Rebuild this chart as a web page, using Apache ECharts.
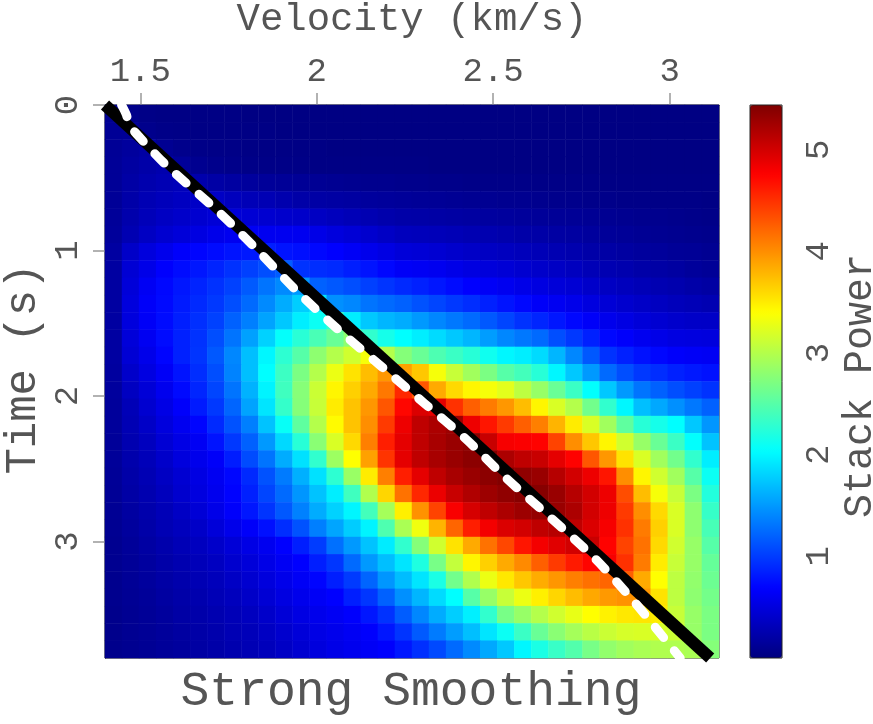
<!DOCTYPE html>
<html><head><meta charset="utf-8">
<script src="https://cdn.jsdelivr.net/npm/echarts@6/dist/echarts.min.js"></script>
<style>html,body{margin:0;padding:0;background:#fff}#c{width:873px;height:724px}</style>
</head><body><div id="c"></div>
<script>
// ---- data (stack power on a 36 x 32 velocity/time grid) ----
const velocityBins = ['1.424','1.473','1.521','1.569','1.618','1.666','1.714','1.763','1.811','1.859','1.908','1.956','2.004','2.053','2.101','2.149','2.198','2.246','2.294','2.343','2.391','2.439','2.488','2.536','2.584','2.633','2.681','2.729','2.778','2.826','2.874','2.923','2.971','3.019','3.068','3.116'];
const timeBins = ['0.059','0.178','0.297','0.416','0.534','0.653','0.772','0.891','1.009','1.128','1.247','1.366','1.484','1.603','1.722','1.841','1.959','2.078','2.197','2.316','2.434','2.553','2.672','2.791','2.909','3.028','3.147','3.266','3.384','3.503','3.622','3.741'];
const p00 = [0.10,0.06,0.04,0.03,0.03,0.03,0.03,0.03,0.02,0.02,0.02,0.02,0.02,0.02,0.02,0.02,0.02,0.02,0.02,0.02,0.02,0.02,0.02,0.02,0.02,0.02,0.02,0.02,0.02,0.02,0.02,0.02,0.02,0.02,0.02,0.02];
const p01 = [0.12,0.13,0.07,0.05,0.04,0.03,0.03,0.03,0.03,0.03,0.02,0.02,0.02,0.02,0.02,0.02,0.02,0.02,0.02,0.02,0.02,0.02,0.02,0.02,0.02,0.02,0.02,0.02,0.02,0.02,0.02,0.02,0.02,0.02,0.02,0.02];
const p02 = [0.12,0.16,0.19,0.10,0.07,0.05,0.04,0.04,0.03,0.03,0.03,0.03,0.03,0.02,0.02,0.02,0.02,0.02,0.02,0.02,0.02,0.02,0.02,0.02,0.02,0.02,0.02,0.02,0.02,0.02,0.02,0.02,0.02,0.02,0.02,0.02];
const p03 = [0.13,0.18,0.22,0.25,0.14,0.09,0.07,0.06,0.05,0.04,0.04,0.04,0.03,0.03,0.03,0.03,0.03,0.03,0.03,0.02,0.02,0.02,0.02,0.02,0.02,0.02,0.02,0.02,0.02,0.02,0.02,0.02,0.02,0.02,0.02,0.02];
const p04 = [0.13,0.2,0.25,0.28,0.31,0.24,0.2,0.18,0.16,0.14,0.13,0.12,0.11,0.1,0.09,0.08,0.08,0.07,0.07,0.06,0.06,0.05,0.05,0.05,0.05,0.04,0.04,0.04,0.04,0.03,0.03,0.03,0.03,0.03,0.03,0.03];
const p05 = [0.13,0.22,0.28,0.32,0.35,0.38,0.37,0.33,0.3,0.28,0.25,0.22,0.2,0.19,0.18,0.16,0.15,0.14,0.13,0.12,0.11,0.1,0.1,0.09,0.09,0.08,0.07,0.07,0.06,0.06,0.05,0.05,0.04,0.04,0.04,0.03];
const p06 = [0.14,0.24,0.31,0.36,0.4,0.43,0.46,0.47,0.45,0.43,0.41,0.4,0.36,0.33,0.3,0.27,0.24,0.22,0.21,0.2,0.19,0.18,0.17,0.16,0.15,0.14,0.13,0.12,0.11,0.1,0.09,0.08,0.08,0.07,0.06,0.05];
const p07 = [0.15,0.27,0.36,0.43,0.48,0.52,0.57,0.6,0.62,0.6,0.6,0.6,0.55,0.5,0.46,0.42,0.37,0.33,0.32,0.31,0.29,0.27,0.26,0.24,0.22,0.21,0.19,0.18,0.16,0.14,0.13,0.11,0.1,0.09,0.08,0.07];
const p08 = [0.18,0.39,0.5,0.58,0.66,0.7,0.74,0.78,0.81,0.84,0.78,0.76,0.72,0.68,0.63,0.58,0.53,0.48,0.46,0.44,0.41,0.38,0.36,0.34,0.32,0.3,0.27,0.25,0.22,0.2,0.18,0.16,0.15,0.13,0.12,0.1];
const p09 = [0.18,0.45,0.56,0.67,0.74,0.8,0.87,0.94,1.02,1.1,1.18,0.95,0.92,0.9,0.84,0.78,0.71,0.64,0.62,0.6,0.56,0.52,0.49,0.46,0.43,0.4,0.37,0.34,0.3,0.27,0.25,0.22,0.2,0.18,0.15,0.13];
const p10 = [0.18,0.48,0.62,0.72,0.8,0.87,0.94,1.03,1.16,1.3,1.42,1.5,1.2,1.15,1.1,1.02,0.96,0.9,0.85,0.8,0.74,0.68,0.64,0.6,0.56,0.52,0.48,0.45,0.4,0.36,0.33,0.3,0.27,0.25,0.22,0.19];
const p11 = [0.18,0.5,0.65,0.73,0.82,0.9,0.98,1.1,1.25,1.42,1.6,1.78,1.9,1.45,1.4,1.3,1.25,1.2,1.12,1.05,0.98,0.92,0.85,0.78,0.72,0.65,0.61,0.57,0.51,0.46,0.42,0.38,0.35,0.32,0.3,0.27];
const p12 = [0.18,0.5,0.64,0.74,0.84,0.93,1.03,1.2,1.36,1.55,1.75,1.95,2.1,2.3,1.95,1.75,1.65,1.6,1.5,1.4,1.32,1.25,1.15,1.05,0.95,0.88,0.8,0.72,0.65,0.58,0.53,0.48,0.44,0.41,0.39,0.38];
const p13 = [0.18,0.48,0.61,0.74,0.85,0.95,1.1,1.3,1.54,1.8,2.06,2.26,2.43,2.6,2.8,2.3,2.15,2.04,1.95,1.85,1.75,1.65,1.52,1.4,1.32,1.25,1.1,0.98,0.85,0.72,0.66,0.6,0.56,0.52,0.51,0.5];
const p14 = [0.18,0.45,0.57,0.7,0.85,0.96,1.15,1.4,1.7,2.0,2.28,2.5,2.8,3.0,3.15,3.35,3.0,2.75,2.6,2.45,2.35,2.25,2.12,2.0,1.95,1.85,1.65,1.4,1.15,0.95,0.85,0.77,0.71,0.66,0.64,0.62];
const p15 = [0.17,0.4,0.52,0.64,0.78,0.92,1.1,1.38,1.7,2.04,2.36,2.7,3.0,3.3,3.55,3.75,3.95,3.9,3.7,3.35,3.1,2.9,2.7,2.5,2.4,2.25,2.0,1.75,1.5,1.25,1.1,0.98,0.92,0.85,0.81,0.77];
const p16 = [0.16,0.35,0.47,0.59,0.73,0.88,1.05,1.3,1.63,1.98,2.38,2.76,3.12,3.45,3.65,3.85,4.12,4.55,4.3,3.85,3.6,3.45,3.35,3.25,3.05,2.85,2.6,2.35,2.05,1.75,1.5,1.3,1.2,1.1,1.02,0.95];
const p17 = [0.15,0.3,0.43,0.54,0.66,0.82,0.98,1.22,1.55,1.9,2.32,2.75,3.1,3.5,3.72,3.95,4.3,4.73,4.95,4.9,4.5,4.25,4.1,3.95,3.75,3.45,3.2,3.0,2.65,2.3,2.0,1.7,1.58,1.45,1.32,1.2];
const p18 = [0.15,0.28,0.38,0.5,0.6,0.7,0.9,1.12,1.36,1.72,2.08,2.55,3.0,3.42,3.72,4.0,4.45,4.85,5.1,5.2,5.28,4.85,4.65,4.45,4.25,4.08,3.8,3.5,3.2,2.9,2.55,2.25,2.15,2.04,1.75,1.48];
const p19 = [0.14,0.26,0.34,0.45,0.54,0.62,0.78,0.98,1.2,1.5,1.84,2.25,2.78,3.2,3.6,4.08,4.6,4.9,5.1,5.22,5.3,5.36,5.05,4.8,4.78,4.75,4.4,4.0,3.7,3.45,3.15,2.85,2.6,2.35,2.05,1.72];
const p20 = [0.14,0.24,0.31,0.4,0.5,0.58,0.65,0.83,1.08,1.3,1.6,1.88,2.3,2.88,3.4,3.9,4.48,4.9,5.1,5.22,5.3,5.37,5.42,5.2,5.1,5.05,4.9,4.75,4.3,3.95,3.55,3.2,2.9,2.65,2.3,1.95];
const p21 = [0.13,0.22,0.28,0.36,0.44,0.53,0.61,0.71,0.9,1.12,1.34,1.62,1.88,2.28,2.86,3.5,4.08,4.6,4.9,5.1,5.22,5.3,5.37,5.42,5.35,5.3,5.15,5.0,4.85,4.65,4.0,3.45,3.15,2.9,2.5,2.1];
const p22 = [0.12,0.2,0.26,0.33,0.42,0.51,0.59,0.69,0.85,1.05,1.25,1.48,1.72,1.95,2.38,2.98,3.62,4.15,4.55,4.86,5.05,5.18,5.28,5.35,5.4,5.4,5.3,5.15,5.0,4.85,4.35,3.75,3.35,3.1,2.7,2.22];
const p23 = [0.11,0.18,0.24,0.3,0.37,0.46,0.56,0.66,0.8,0.96,1.15,1.37,1.6,1.8,1.99,2.4,2.92,3.48,3.98,4.4,4.79,4.98,5.1,5.2,5.28,5.33,5.3,5.2,5.0,4.85,4.45,4.0,3.6,3.2,2.8,2.33];
const p24 = [0.1,0.16,0.22,0.28,0.33,0.39,0.48,0.57,0.65,0.76,0.92,1.12,1.36,1.56,1.77,1.98,2.46,2.95,3.32,3.8,4.22,4.6,4.82,4.95,5.0,5.1,5.15,5.1,4.95,4.8,4.5,4.1,3.65,3.2,2.8,2.42];
const p25 = [0.09,0.14,0.19,0.24,0.29,0.34,0.4,0.47,0.54,0.6,0.68,0.84,1.0,1.28,1.5,1.72,1.94,2.3,2.75,3.15,3.55,3.85,4.15,4.38,4.65,4.82,4.92,5.0,5.05,4.75,4.4,4.15,3.6,3.15,2.85,2.5];
const p26 = [0.09,0.13,0.17,0.22,0.26,0.31,0.35,0.42,0.48,0.55,0.62,0.68,0.84,0.97,1.25,1.5,1.7,1.9,2.2,2.68,3.08,3.45,3.65,3.85,4.02,4.25,4.45,4.62,4.74,4.8,4.5,4.1,3.5,3.1,2.85,2.58];
const p27 = [0.08,0.12,0.16,0.2,0.24,0.28,0.32,0.37,0.43,0.5,0.57,0.63,0.7,0.84,0.99,1.22,1.48,1.69,1.9,2.18,2.65,2.98,3.3,3.52,3.7,3.84,3.96,4.08,4.16,4.22,4.25,3.85,3.4,3.05,2.82,2.62];
const p28 = [0.08,0.11,0.14,0.18,0.22,0.25,0.29,0.33,0.39,0.45,0.52,0.58,0.63,0.68,0.84,0.97,1.2,1.45,1.65,1.85,2.04,2.5,2.85,3.1,3.3,3.48,3.62,3.75,3.86,3.94,3.98,3.95,3.55,3.05,2.8,2.66];
const p29 = [0.07,0.1,0.13,0.16,0.2,0.23,0.26,0.3,0.34,0.4,0.47,0.53,0.58,0.62,0.67,0.8,0.95,1.18,1.4,1.6,1.78,1.96,2.3,2.68,2.85,3.0,3.15,3.28,3.4,3.47,3.52,3.54,3.5,3.1,2.85,2.7];
const p30 = [0.07,0.1,0.12,0.15,0.18,0.21,0.24,0.28,0.31,0.36,0.42,0.48,0.54,0.58,0.62,0.67,0.8,0.96,1.16,1.34,1.52,1.7,1.9,2.1,2.35,2.6,2.78,2.92,3.03,3.12,3.18,3.2,3.18,3.12,2.85,2.7];
const p31 = [0.07,0.09,0.11,0.14,0.16,0.19,0.22,0.25,0.28,0.32,0.37,0.43,0.5,0.55,0.59,0.63,0.67,0.8,0.93,1.07,1.25,1.42,1.58,1.75,2.0,2.18,2.34,2.48,2.68,2.82,2.9,2.95,2.98,2.98,2.95,2.75];
const powerRows = [p00,p01,p02,p03,p04,p05,p06,p07,p08,p09,p10,p11,p12,p13,p14,p15,p16,p17,p18,p19,p20,p21,p22,p23,p24,p25,p26,p27,p28,p29,p30,p31];

const blackLineV = [1.4, 3.115];
const blackLineT = [0, 3.8];
const whiteLineV = [1.447,1.461,1.467,1.49,1.572,1.72,1.833,1.944,2.064,2.185,2.305,2.425,2.535,2.66,2.79,2.895,2.953,3.03];
const whiteLineT = [0,0.07,0.13,0.2,0.41,0.73,1.0,1.28,1.55,1.8,2.05,2.3,2.56,2.83,3.12,3.4,3.57,3.8];

const velocityTicks = [1.5, 2, 2.5, 3];
const timeTicks = [0, 1, 2, 3];
const powerTicks = [1, 2, 3, 4, 5];
const powerMin = 0, powerMax = 5.44;
const vMin = 1.4, vMax = 3.14, tMin = 0, tMax = 3.8;

// ---- build ----
const heat = [];
powerRows.forEach((row, j) => row.forEach((v, i) => heat.push([i, j, v])));
const blackLine = blackLineV.map((v, k) => [v, blackLineT[k]]);
const whiteLine = whiteLineV.map((v, k) => [v, whiteLineT[k]]);

const FONT = 'Liberation Mono';
const TXT = '#555';
const G = {left: 105, top: 105, width: 614, height: 553};
const CB = {left: 750, top: 105, width: 32, height: 553};
const jet = ['#00007F','#0000FF','#007FFF','#00FFFF','#7FFF7F','#FFFF00','#FF7F00','#FF0000','#7F0000'];

const chart = echarts.init(document.getElementById('c'), null, {renderer: 'canvas'});
chart.setOption({
  animation: false,
  backgroundColor: '#fff',
  grid: [
    Object.assign({show: false}, G),
    Object.assign({show: true, borderColor: '#111', borderWidth: 1, backgroundColor: 'transparent'}, G),
    Object.assign({show: false}, CB)
  ],
  xAxis: [
    {type: 'category', gridIndex: 0, data: velocityBins, show: false},
    {type: 'value', gridIndex: 1, position: 'top', min: vMin, max: vMax,
     axisLine: {show: true, lineStyle: {color: '#111', width: 1}},
     axisTick: {show: true, length: 12, lineStyle: {color: '#999', width: 1.5}, customValues: velocityTicks},
     axisLabel: {show: true, margin: 16, fontFamily: FONT, fontSize: 34, color: TXT, customValues: velocityTicks},
     splitLine: {show: false}},
    {type: 'value', gridIndex: 2, show: false, min: 0, max: 1}
  ],
  yAxis: [
    {type: 'category', gridIndex: 0, data: timeBins, inverse: true, show: false},
    {type: 'value', gridIndex: 1, inverse: true, min: tMin, max: tMax,
     axisLine: {show: true, lineStyle: {color: '#111', width: 1}},
     axisTick: {show: true, length: 12, lineStyle: {color: '#999', width: 1.5}, customValues: timeTicks},
     axisLabel: {show: true, rotate: 90, margin: 20, fontFamily: FONT, fontSize: 34, color: TXT, customValues: timeTicks},
     splitLine: {show: false}},
    {type: 'value', gridIndex: 2, position: 'right', min: powerMin, max: powerMax,
     axisLine: {show: false},
     axisTick: {show: true, length: 14, lineStyle: {color: '#999', width: 1.5}, customValues: powerTicks},
     axisLabel: {show: true, rotate: 90, margin: 20, fontFamily: FONT, fontSize: 34, color: TXT, customValues: powerTicks},
     splitLine: {show: false}}
  ],
  visualMap: {
    type: 'continuous', min: powerMin, max: powerMax, seriesIndex: 0, dimension: 2,
    inRange: {color: jet}, show: true, calculable: false, hoverLink: false,
    orient: 'vertical', left: CB.left, top: CB.top, itemWidth: CB.width, itemHeight: CB.height,
    padding: 0, text: null, textStyle: {fontSize: 0}
  },
  graphic: [
    {type: 'rect', shape: {x: CB.left, y: CB.top, width: CB.width, height: CB.height},
     style: {fill: 'none', stroke: '#222', lineWidth: 1}, z: 100},
    {type: 'text', x: 412, y: 20, z: 100,
     style: {text: 'Velocity (km/s)', font: '39px "Liberation Mono"', fill: TXT, textAlign: 'center', textVerticalAlign: 'middle'}},
    {type: 'text', x: 23, y: 369, rotation: Math.PI / 2, z: 100,
     style: {text: 'Time (s)', font: '44px "Liberation Mono"', fill: TXT, textAlign: 'center', textVerticalAlign: 'middle'}},
    {type: 'text', x: 860, y: 386, rotation: Math.PI / 2, z: 100,
     style: {text: 'Stack Power', font: '40px "Liberation Mono"', fill: TXT, textAlign: 'center', textVerticalAlign: 'middle'}},
    {type: 'text', x: 411, y: 692, z: 100,
     style: {text: 'Strong Smoothing', font: '48px "Liberation Mono"', fill: TXT, textAlign: 'center', textVerticalAlign: 'middle'}}
  ],
  series: [
    {type: 'heatmap', xAxisIndex: 0, yAxisIndex: 0, data: heat, progressive: 0,
     itemStyle: {borderWidth: 0}, emphasis: {disabled: true}, silent: true},
    {type: 'line', xAxisIndex: 1, yAxisIndex: 1, data: blackLine, symbol: 'none', silent: true,
     lineStyle: {color: '#000', width: 12, cap: 'butt'}, z: 3},
    {type: 'line', xAxisIndex: 1, yAxisIndex: 1, data: whiteLine, symbol: 'none', silent: true, smooth: 0.3,
     lineStyle: {color: '#fff', width: 9, type: [13, 17], cap: 'round', join: 'round'}, z: 4}
  ]
});
</script></body></html>
